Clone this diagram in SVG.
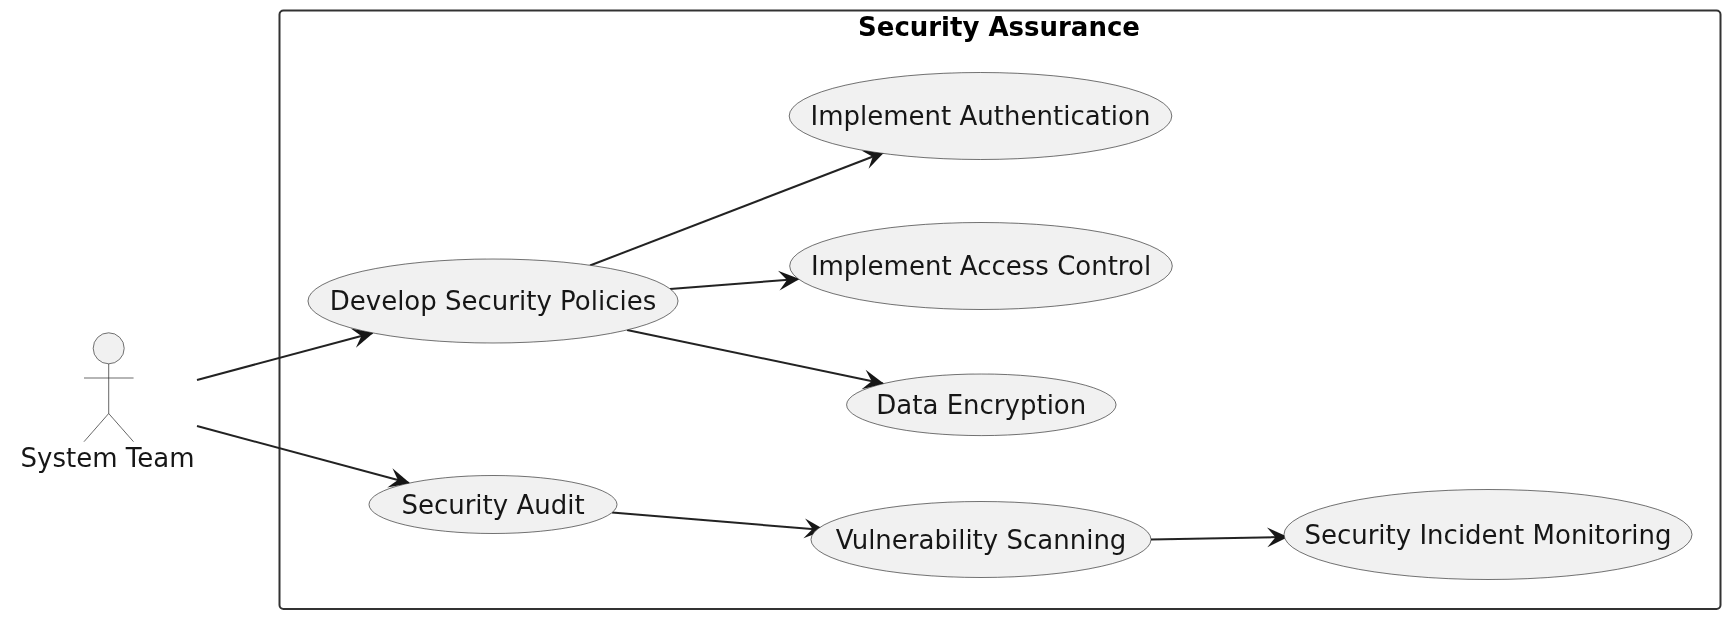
<svg xmlns="http://www.w3.org/2000/svg" width="1735" height="623" viewBox="0 0 1735 623">
<style>
text{font-family:"DejaVu Sans",sans-serif;font-size:26px;fill:#181818;text-anchor:middle}
.t{font-weight:bold;fill:#000}
.uc{fill:#f1f1f1;stroke:#181818;stroke-width:1;stroke-opacity:.6}
.act{fill:none;stroke:#181818;stroke-width:1;stroke-opacity:.65}
.c{fill:none;stroke:#222;stroke-width:2;marker-end:url(#a)}
</style>
<defs>
<marker id="a" markerUnits="userSpaceOnUse" markerWidth="22" markerHeight="22" refX="18" refY="9" viewBox="0 0 20 18" orient="auto" overflow="visible"><path d="M19 9L0 0L7.5 9L0 18Z" fill="#181818"/></marker>
<filter id="soft" x="0" y="0" width="1735" height="623" filterUnits="userSpaceOnUse"><feGaussianBlur stdDeviation="0.7"/></filter>
</defs>
<rect fill="#fff" width="1735" height="623"/>
<g filter="url(#soft)">
<g id="container"><rect x="279.5" y="10.5" width="1441" height="598.5" rx="4" fill="none" stroke="#333" stroke-width="2"/><text class="t" x="999" y="36">Security Assurance</text></g>
<g id="connectors">
<path class="c" d="M197 380L372.5 333"/>
<path class="c" d="M197 426L409 483"/>
<path class="c" d="M590 265.5L883.5 152.5"/>
<path class="c" d="M670 289L798.5 279"/>
<path class="c" d="M627 330L883 383.5"/>
<path class="c" d="M612 512.5L824 530"/>
<path class="c" d="M1151 539.5L1287 537"/>
</g>
<g id="actor-system-team"><circle class="uc" cx="108.7" cy="348.3" r="15.5"/><path class="act" d="M108.7 364V413.5M84 378H133.5M84 441.7L108.7 413.5L133.5 441.7"/><text x="107.5" y="467">System Team</text></g>
<g id="uc-develop"><ellipse class="uc" cx="493" cy="301" rx="185" ry="42"/><text x="493" y="310">Develop Security Policies</text></g>
<g id="uc-auth"><ellipse class="uc" cx="980.5" cy="116" rx="191.3" ry="43.5"/><text x="980.5" y="125">Implement Authentication</text></g>
<g id="uc-access"><ellipse class="uc" cx="981" cy="266" rx="191.3" ry="43.5"/><text x="981" y="275">Implement Access Control</text></g>
<g id="uc-encryption"><ellipse class="uc" cx="981.3" cy="404.8" rx="134.7" ry="30.8"/><text x="981.3" y="414">Data Encryption</text></g>
<g id="uc-audit"><ellipse class="uc" cx="493" cy="504.5" rx="124" ry="29"/><text x="493" y="514">Security Audit</text></g>
<g id="uc-vuln"><ellipse class="uc" cx="981" cy="539.5" rx="170" ry="38"/><text x="981" y="549">Vulnerability Scanning</text></g>
<g id="uc-incident"><ellipse class="uc" cx="1488" cy="534.5" rx="204" ry="45"/><text x="1488" y="544">Security Incident Monitoring</text></g>
</g>
</svg>
